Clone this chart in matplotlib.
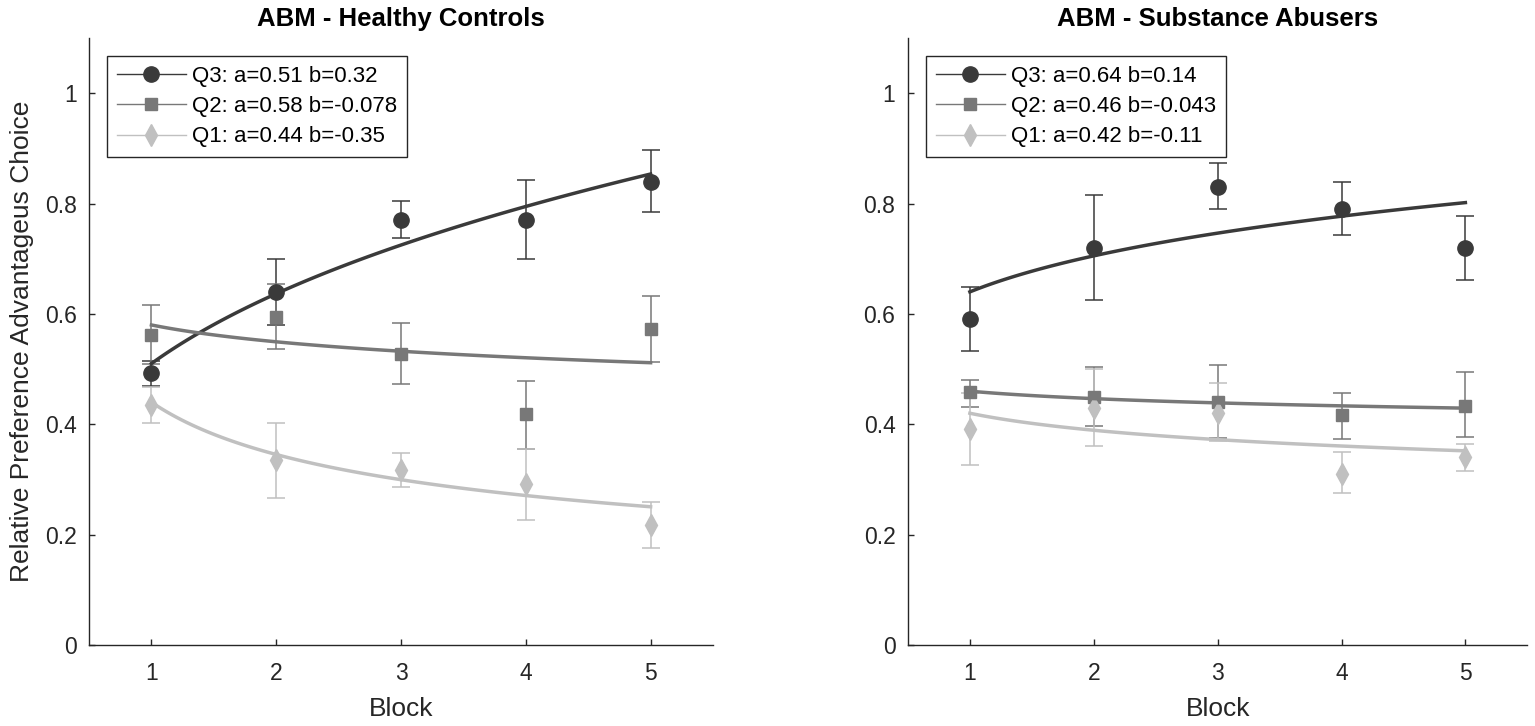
import matplotlib
matplotlib.use("Agg")
import matplotlib.pyplot as plt
import numpy as np
from matplotlib.lines import Line2D

plt.rcParams["font.family"] = ["Liberation Sans", "DejaVu Sans"]

# =========================================================
# Data
# =========================================================
BLOCKS = [1, 2, 3, 4, 5]
GROUPS = ["Q3", "Q2", "Q1"]

# healthy controls
HC_MEAN = {
    "Q3": [0.493, 0.640, 0.771, 0.771, 0.839],
    "Q2": [0.562, 0.594, 0.528, 0.418, 0.572],
    "Q1": [0.435, 0.335, 0.318, 0.292, 0.218],
}
HC_LO = {
    "Q3": [0.470, 0.580, 0.737, 0.699, 0.785],
    "Q2": [0.510, 0.536, 0.473, 0.355, 0.513],
    "Q1": [0.402, 0.266, 0.286, 0.226, 0.176],
}
HC_HI = {
    "Q3": [0.515, 0.699, 0.804, 0.842, 0.897],
    "Q2": [0.616, 0.655, 0.583, 0.478, 0.632],
    "Q1": [0.468, 0.402, 0.348, 0.355, 0.259],
}
HC_A = {"Q3": 0.51, "Q2": 0.58, "Q1": 0.44}
HC_B = {"Q3": 0.32, "Q2": -0.078, "Q1": -0.35}
HC_LABEL_B = {"Q3": "0.32", "Q2": "-0.078", "Q1": "-0.35"}

# substance abusers
SA_MEAN = {
    "Q3": [0.590, 0.720, 0.830, 0.791, 0.720],
    "Q2": [0.459, 0.450, 0.441, 0.417, 0.434],
    "Q1": [0.391, 0.430, 0.420, 0.310, 0.340],
}
SA_LO = {
    "Q3": [0.532, 0.626, 0.791, 0.743, 0.661],
    "Q2": [0.432, 0.397, 0.375, 0.374, 0.377],
    "Q1": [0.326, 0.360, 0.370, 0.275, 0.316],
}
SA_HI = {
    "Q3": [0.648, 0.815, 0.873, 0.839, 0.777],
    "Q2": [0.480, 0.504, 0.507, 0.456, 0.494],
    "Q1": [0.456, 0.501, 0.475, 0.349, 0.364],
}
SA_A = {"Q3": 0.64, "Q2": 0.46, "Q1": 0.42}
SA_B = {"Q3": 0.14, "Q2": -0.043, "Q1": -0.11}
SA_LABEL_B = {"Q3": "0.14", "Q2": "-0.043", "Q1": "-0.11"}

COLORS = {"Q3": "#3a3a3a", "Q2": "#787878", "Q1": "#c0c0c0"}
MARKERS = {"Q3": "o", "Q2": "s", "Q1": "d"}
MSIZE = {"Q3": 11, "Q2": 9, "Q1": 11}
TXT = "#262626"


def draw_panel(ax, title, mean, lo, hi, a, b, blabel):
    x = np.array(BLOCKS, dtype=float)
    handles = []
    for g in GROUPS:
        m = np.array(mean[g])
        yerr = [m - np.array(lo[g]), np.array(hi[g]) - m]
        ax.errorbar(x, m, yerr=yerr, fmt=MARKERS[g], color=COLORS[g],
                    markersize=MSIZE[g], elinewidth=1.1, capsize=6.5,
                    capthick=1.1, zorder=2)
        xf = np.linspace(x.min(), x.max(), 100)
        ax.plot(xf, a[g] * xf ** b[g], color=COLORS[g], lw=2.5, zorder=3)
        handles.append(Line2D([], [], color=COLORS[g], lw=1.0, marker=MARKERS[g],
                              markersize=MSIZE[g],
                              label=f"{g}: a={a[g]:g} b={blabel[g]}"))

    ax.set_xlim(0.5, 5.5)
    ax.set_ylim(0, 1.1)
    ax.set_xticks(BLOCKS)
    ax.set_yticks([0, 0.2, 0.4, 0.6, 0.8, 1.0])
    ax.set_yticklabels(["0", "0.2", "0.4", "0.6", "0.8", "1"])
    ax.spines["top"].set_visible(False)
    ax.spines["right"].set_visible(False)
    for s in ("left", "bottom"):
        ax.spines[s].set_color(TXT)
        ax.spines[s].set_linewidth(1.0)
    ax.tick_params(direction="in", length=4.5, width=1.0, labelsize=16.5,
                   colors=TXT, pad=9)
    ax.tick_params(axis="x", pad=12)
    ax.set_xlabel("Block", fontsize=19, color=TXT, labelpad=9)
    ax.set_title(title, fontsize=18.5, fontweight="bold", pad=9)

    leg = ax.legend(handles=handles, loc="upper left", fontsize=16,
                    handlelength=3.1, handletextpad=0.3, labelspacing=0.42,
                    borderaxespad=0.8, borderpad=0.45, fancybox=False,
                    framealpha=1)
    leg.get_frame().set_edgecolor(TXT)
    leg.get_frame().set_linewidth(1.0)


fig = plt.figure(figsize=(15.35, 7.26), dpi=100)
ax1 = fig.add_axes([0.058, 0.1116, 0.4065, 0.836])
ax2 = fig.add_axes([0.5915, 0.1116, 0.4035, 0.836])

draw_panel(ax1, "ABM - Healthy Controls", HC_MEAN, HC_LO, HC_HI, HC_A, HC_B, HC_LABEL_B)
draw_panel(ax2, "ABM - Substance Abusers", SA_MEAN, SA_LO, SA_HI, SA_A, SA_B, SA_LABEL_B)
ax1.set_ylabel("Relative Preference Advantageus Choice", fontsize=19, color=TXT, labelpad=8)

fig.savefig("out.png", dpi=100)
